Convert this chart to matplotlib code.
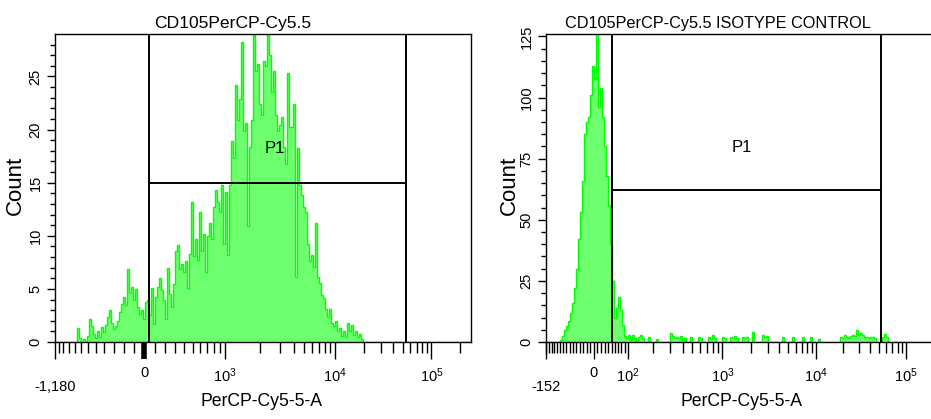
import numpy as np
import matplotlib
matplotlib.use("Agg")
import matplotlib.pyplot as plt
from matplotlib.ticker import FixedLocator, FixedFormatter, NullFormatter
from matplotlib.transforms import blended_transform_factory

plt.rcParams['font.family'] = ['Liberation Sans', 'DejaVu Sans']
plt.rcParams['mathtext.fontset'] = 'custom'
plt.rcParams['mathtext.rm'] = 'Liberation Sans'

# ---------------- data ----------------
titles = ["CD105PerCP-Cy5.5", "CD105PerCP-Cy5.5 ISOTYPE CONTROL"]
x_label = "PerCP-Cy5-5-A"
y_label = "Count"
gate_name = "P1"

# left panel (stained sample): counts per display channel bin
left_counts = [
    0, 0, 0, 0, 0, 0, 0, 0, 0, 0,
    0, 1.3, 0.4, 0, 0.3, 0, 0.6, 2.2, 1.5, 0.8,
    0.4, 1.0, 0.5, 1.4, 0.9, 1.6, 2.4, 3.0, 1.8, 1.2,
    1.5, 2.0, 2.8, 3.6, 4.2, 3.5, 6.9, 4.6, 5.2, 4.0,
    5.0, 3.3, 2.6, 3.0, 2.2, 3.8, 4.0, 2.5, 5.1, 1.7,
    4.2, 5.2, 6.0, 4.9, 4.0, 2.2, 7.0, 4.5, 3.3, 5.5,
    8.6, 9.1, 6.9, 7.3, 6.6, 7.6, 5.1, 8.3, 13.2, 8.1,
    9.7, 7.7, 12.2, 8.6, 10.2, 6.6, 10.0, 11.2, 9.7, 12.7,
    14.3, 13.2, 12.2, 14.8, 9.2, 14.1, 8.2, 14.8, 18.9, 17.3,
    24.2, 20.9, 22.9, 28.2, 19.9, 20.6, 10.9, 18.4, 20.9, 30.0,
    25.5, 26.2, 22.4, 21.4, 26.5, 26.0, 30.0, 27.0, 23.5, 25.5,
    21.4, 19.9, 20.4, 21.2, 18.4, 16.8, 25.3, 20.2, 20.2, 22.4,
    6.1, 18.3, 14.8, 13.8, 12.7, 12.2, 9.2, 7.6, 8.2, 7.1,
    11.2, 6.1, 5.6, 4.4, 4.1, 3.1, 2.4, 3.1, 1.8, 1.5,
    2.0, 1.0, 1.3, 0.6, 1.0, 0.5, 1.8, 1.0, 1.6, 0.7,
    1.0, 0.5, 0.8, 0.3, 0, 0, 0, 0, 0, 0,
    0, 0, 0, 0, 0, 0, 0, 0, 0, 0,
    0, 0, 0, 0, 0, 0, 0, 0, 0, 0,
    0, 0, 0, 0, 0, 0, 0, 0, 0, 0,
    0, 0, 0, 0, 0, 0, 0, 0, 0, 0,
    0, 0, 0, 0, 0, 0, 0, 0,
]

# right panel (isotype control)
right_counts = [
    0, 0, 0, 0, 0, 0, 0, 0.7, 2.5, 4.8,
    6.5, 8.5, 11.7, 16, 22, 30, 42, 53, 66, 85,
    90, 92, 101, 113, 108, 130, 96, 104, 92, 80,
    68, 56, 40, 25, 10, 14, 18.6, 13, 7, 2.5,
    1.5, 2.7, 1.0, 2.7, 1.5, 0, 2.0, 2.7, 1.5, 0,
    0, 2.0, 0, 0, 0, 1.4, 0, 0, 0, 0,
    0, 0, 3.5, 2.5, 1.5, 2.0, 1.5, 2.5, 0, 1.5,
    0, 0, 2.0, 0, 0, 0, 2.0, 1.5, 0, 0,
    0, 2.0, 1.4, 2.7, 1.5, 0, 0, 0, 2.0, 1.5,
    0, 0, 2.0, 1.5, 2.5, 1.5, 0, 0, 2.0, 1.5,
    2.0, 0, 0, 4.0, 0, 0, 0, 0, 2.7, 2.0,
    2.5, 0, 0, 0, 0, 0, 0, 0, 2.0, 0,
    0, 0, 0, 2.0, 0, 0, 0, 0, 2.0, 0,
    0, 0, 2.0, 0, 0, 0, 1.4, 0, 0, 0,
    0, 0, 0, 0, 0, 0, 0, 2.0, 1.5, 2.7,
    2.0, 1.5, 2.5, 3.0, 2.5, 4.8, 3.0, 3.5, 2.7, 2.0,
    2.0, 1.5, 2.0, 2.0, 1.5, 0, 0, 0, 2.0, 3.4,
    2.0, 0, 0, 0, 0, 0, 0, 0, 0, 0,
    0, 0, 0, 0, 0, 0, 0, 0, 0, 0,
    0, 0, 0, 0, 0, 0, 0, 0, 0,
]

x_ranges = [(-1180, 262144), (-152, 262144)]
y_max = [29.0, 126.0]
y_major = [[0, 5, 10, 15, 20, 25], [0, 25, 50, 75, 100, 125]]
y_minor_step = [1, 5]
gate_lo = [45, 50]
gate_hi = [54000, 53000]
gate_level = [15.0, 62.3]
gate_label_pos = [(2700, 18.2), (1600, 79.5)]
x_major = [[0, 1e3, 1e4, 1e5], [0, 1e2, 1e3, 1e4, 1e5]]
x_major_labels = [["0", r"$\mathregular{10^3}$", r"$\mathregular{10^4}$", r"$\mathregular{10^5}$"],
                  ["0", r"$\mathregular{10^2}$", r"$\mathregular{10^3}$", r"$\mathregular{10^4}$", r"$\mathregular{10^5}$"]]
edge_labels = ["-1,180", "-152"]
logicle_params = [dict(T=262144, W=0.82, M=4.29), dict(T=262144, W=0.48, M=4.37)]

fill_color = "#6EFF6E"
line_color = "#00FF00"


def logicle(T, W, M, A=0.0):
    w = W / (M + A)
    x2 = A / (M + A)
    x1 = x2 + w
    x0 = x2 + 2 * w
    b = (M + A) * np.log(10)
    lo, hi = 1e-9, b
    for _ in range(200):
        mid = 0.5 * (lo + hi)
        g = 2 * (np.log(mid) - np.log(b)) + w * (b + mid)
        if g > 0:
            hi = mid
        else:
            lo = mid
    d = 0.5 * (lo + hi)
    c_a = np.exp(x0 * (b + d))
    mf_a = np.exp(b * x1) - c_a * np.exp(-d * x1)
    a = T / ((np.exp(b) - mf_a) - c_a * np.exp(-d))
    c = c_a * a
    f = -mf_a * a

    def inv(x):
        x = np.asarray(x, dtype=float)
        xr = np.where(x >= x1, x, 2 * x1 - x)
        s = a * np.exp(b * xr) - c * np.exp(-d * xr) + f
        return np.where(x >= x1, s, -s)

    grid = np.linspace(-0.6, 1.6, 60001)
    vals = inv(grid)

    def fwd(v):
        return np.interp(np.asarray(v, dtype=float), vals, grid)

    return fwd, inv


def minor_ticks(lo, hi, lin_step):
    t = []
    v = -lin_step
    while v > lo:
        t.append(v)
        v -= lin_step
    v = lin_step
    while v < 10 * lin_step * 1.0001:
        t.append(v)
        v += lin_step
    for dec in [1e3, 1e4, 1e5]:
        for m in range(2, 10):
            if m * dec < hi and m * dec > 10 * lin_step:
                t.append(m * dec)
    if lin_step == 10:
        for m in range(2, 10):
            t.append(m * 100)
    return t

W_PX, H_PX = 931, 419
fig = plt.figure(figsize=(W_PX / 100, H_PX / 100), dpi=100)
fig.patch.set_facecolor("white")

axes_px = [(55, 34, 416, 308), (546, 34, 398, 308)]
title_x_px = [233, 718]
title_size = [12.6, 11.7]
xlabel_x_px = [262, 742]
ylabel_x_px = [26, 520]
lin_steps = [100, 10]
all_counts = [left_counts, right_counts]

for k in range(2):
    x0p, y0p, wp, hp = axes_px[k]
    ax = fig.add_axes([x0p / W_PX, 1 - (y0p + hp) / H_PX, wp / W_PX, hp / H_PX])
    fwd, inv = logicle(**logicle_params[k])
    ax.set_xscale('function', functions=(fwd, inv))
    xmin, xmax = x_ranges[k]
    ax.set_xlim(xmin, xmax)
    ax.set_ylim(0, y_max[k])

    counts = np.asarray(all_counts[k], dtype=float)
    disp = np.linspace(fwd(xmin), fwd(xmax), len(counts) + 1)
    edges = inv(disp)
    ax.stairs(counts, edges, fill=True, color=fill_color, lw=0, zorder=1)
    ax.stairs(counts, edges, color=line_color, lw=1.0, zorder=1.5)

    # gate
    ax.vlines([gate_lo[k], gate_hi[k]], 0, 1, transform=ax.get_xaxis_transform(),
              color="black", lw=1.4, zorder=3)
    ax.hlines(gate_level[k], gate_lo[k], gate_hi[k], color="black", lw=1.4, zorder=3)
    gx, gy = gate_label_pos[k]
    ax.text(gx, gy, gate_name, ha="center", va="center", fontsize=12, zorder=4)

    # x ticks
    majors = [xmin] + x_major[k]
    ax.xaxis.set_major_locator(FixedLocator(majors))
    ax.xaxis.set_major_formatter(FixedFormatter([""] + x_major_labels[k]))
    ax.xaxis.set_minor_locator(FixedLocator(minor_ticks(xmin, xmax, lin_steps[k])))
    ax.xaxis.set_minor_formatter(NullFormatter())
    ax.tick_params(axis="x", which="major", direction="out", length=12.5, width=1.0,
                   pad=5, labelsize=10.5)
    ax.tick_params(axis="x", which="minor", direction="out", length=8, width=1.0)
    if k == 0:
        zt = ax.xaxis.get_major_ticks()[1]
        zt.tick1line.set_markeredgewidth(4)
    trans = blended_transform_factory(ax.transData, ax.transAxes)
    ax.text(xmin, -0.146, edge_labels[k], transform=trans, ha="center", va="center",
            fontsize=10.5)

    # y ticks
    ax.yaxis.set_major_locator(FixedLocator(y_major[k]))
    ax.yaxis.set_minor_locator(FixedLocator(list(np.arange(0, y_max[k], y_minor_step[k]))))
    ax.tick_params(axis="y", which="major", direction="out", length=5.5, width=1.0,
                   pad=3.5, labelsize=10.5, labelrotation=90)
    ax.tick_params(axis="y", which="minor", direction="out", length=3.5, width=1.0)
    for lab in ax.get_yticklabels():
        lab.set_va('center')

    for sp in ax.spines.values():
        sp.set_linewidth(1.0)

    ax.set_xlabel(x_label, fontsize=12.7)
    ax.xaxis.set_label_coords((xlabel_x_px[k] - x0p) / wp, -0.166)
    ax.set_ylabel(y_label, fontsize=16)
    ax.yaxis.set_label_coords((ylabel_x_px[k] - x0p) / wp, 0.51)
    ax.set_title(titles[k], fontsize=title_size[k], x=(title_x_px[k] - x0p) / wp, pad=4)

fig.savefig("out.png", dpi=100, facecolor="white")
